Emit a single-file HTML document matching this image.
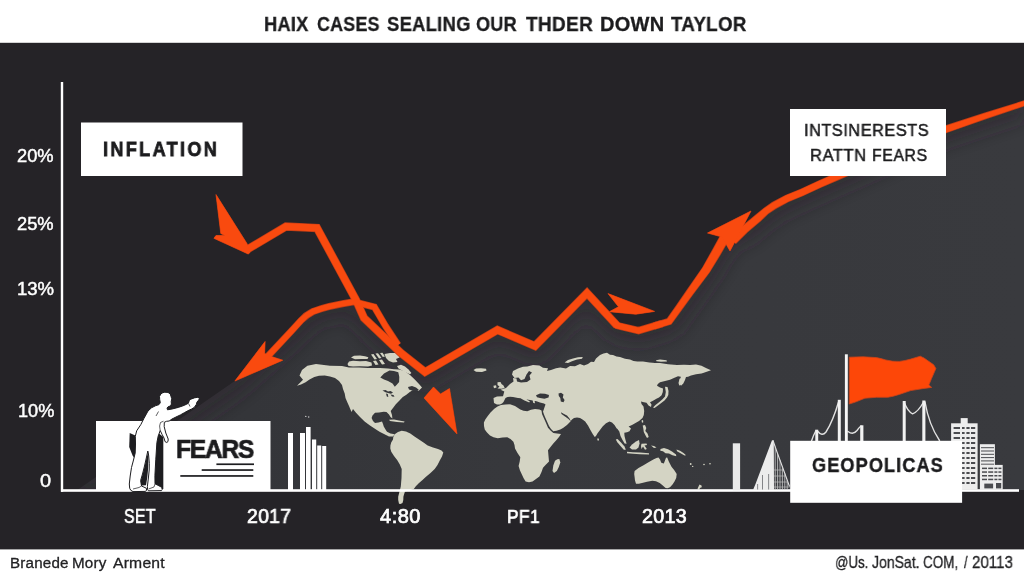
<!DOCTYPE html>
<html><head><meta charset="utf-8">
<style>
html,body{margin:0;padding:0;background:#fff;}
body{width:1024px;height:576px;position:relative;overflow:hidden;font-family:"Liberation Sans",sans-serif;}
#bg{position:absolute;left:0;top:0;width:1024px;height:576px;}
.t{position:absolute;white-space:nowrap;line-height:1;transform-origin:0 0;will-change:transform;}
</style></head><body>
<svg id="bg" width="1024" height="576" viewBox="0 0 1024 576">
<defs>
<linearGradient id="lg" x1="0" y1="0" x2="1" y2="0">
<stop offset="0" stop-color="#323337"/><stop offset="0.45" stop-color="#37383c"/><stop offset="1" stop-color="#393a3e"/>
</linearGradient>
<clipPath id="lclip"><polygon points="77.5,490 235,381 290.8,331.7 304.4,317.1 313,311.5 327.3,306.7 354,301.8 370,322 425,372 497,330 535,346 587,293 617,325.5 638.6,330.6 669.2,321.4 690,292.2 706,270 725,237 745,229 757.8,218.2 774,205.5 801.7,192.5 836.5,176.8 946,129.2 1024,103.5 1024,490"/></clipPath>
<filter id="blur" x="-10%" y="-10%" width="120%" height="120%"><feGaussianBlur stdDeviation="9"/></filter>
</defs>
<rect x="0" y="0" width="1024" height="576" fill="#fff"/>
<rect x="0" y="42.8" width="1024" height="506.6" fill="#252327"/>
<!-- light area -->
<polygon fill="url(#lg)" points="77.5,490 235,381 290.8,331.7 304.4,317.1 313,311.5 327.3,306.7 354,301.8 370,322 425,372 497,330 535,346 587,293 617,325.5 638.6,330.6 669.2,321.4 690,292.2 706,270 725,237 745,229 757.8,218.2 774,205.5 801.7,192.5 836.5,176.8 946,129.2 1024,103.5 1024,490"/>
<g clip-path="url(#lclip)"><polyline points="77.5,490 235,381 290.8,331.7 304.4,317.1 313,311.5 327.3,306.7 354,301.8 370,322 425,372 497,330 535,346 587,293 617,325.5 638.6,330.6 669.2,321.4 690,292.2 706,270 725,237 745,229 757.8,218.2 774,205.5 801.7,192.5 836.5,176.8 946,129.2 1024,103.5" fill="none" stroke="#27262b" stroke-width="26" stroke-opacity="0.5" filter="url(#blur)"/></g>
<!-- MAP -->
<g id="map" fill="#d4d4c4" stroke="none">
<!-- North America -->
<path d="M297,385.8 L303,379.7 L299.5,375.4 L302,370 L307.4,365.8 L316,364 L330,365.8 L342,366 L349,367.6 L359,367.6 L368,368 L380,368 L388,368.5 L394,369.3 L399,369.5 L404.6,371 L410,375 L415,379.7 L419,384 L422,387.5 L418.5,391 L413,390 L409.8,391.9 L406,395 L402.8,397 L399,401 L396,404 L393,408 L390.7,411 L392,415 L392.4,418.5 L390.5,417 L389,414.4 L386.5,412 L383.75,411.8 L379,412.5 L375,412.7 L372.5,415.5 L371.6,418 L373,421 L375,423 L378.5,422.5 L382,421.4 L383,424 L383.75,426.6 L385.5,429.5 L387,431.8 L390.5,433.5 L394.7,434.3 L393,436.5 L389,436.5 L384,434 L380,432 L376.8,430 L370,425.5 L364.6,421.4 L360,417 L356,412.7 L353,409 L351.5,412 L349,406 L347.3,402.3 L345.5,398 L344.7,393.6 L343,389 L342,385 L339,381 L335,378 L330,376.5 L324.7,375.4 L319,375.8 L314.3,377 L309.5,379.5 L305.6,382.3 L301,384.5 Z"/>
<!-- Arctic archipelago -->
<path d="M347.5,364 L349,361.5 L353,360.8 L360,361.3 L366,361 L371.5,362.5 L372,365.5 L368,366.6 L360,366.3 L353,366.6 L348.5,366 Z"/>
<path d="M351,357.5 L354,355.8 L360,355.5 L365,356.2 L368.4,357.2 L367.5,359 L361,359 L355,359.2 Z"/>
<path d="M371,354.5 L373.5,354 L377,359 L374.5,359.5 Z M375.5,353.5 L378,353.2 L381.5,358 L379,358.5 Z M380,353 L382.5,352.8 L385,356.5 L382.8,357 Z M373,361 L376,360.5 L378.5,364.5 L375.5,365 Z M379,360 L382,359.5 L385,364 L382,364.5 Z"/>
<path d="M384.5,354 L390,353 L396,353 L400,354.5 L399.5,357.5 L396,359 L397.5,362 L393,362.6 L389,361 L386,358 Z"/>
<path d="M397,366 L401,364.8 L405,366.5 L408.5,369.5 L411.4,373 L410,374.3 L406,372.5 L402,370.5 L398.5,368.5 Z"/>
<!-- Caribbean -->
<path d="M389,419.8 L394,419.6 L399,420.6 L404.6,421.6 L404,422.6 L397,422 L390,421 Z"/>
<!-- South America -->
<path d="M394.7,434.3 L398,432 L401.7,430.8 L406,431.5 L410.3,433.4 L414.5,436.5 L419,439.5 L423.5,442.5 L427.7,445.6 L433,447.5 L438,449 L441.5,450.5 L443.3,452.5 L442,456.5 L439.9,460.3 L437.5,465 L434.7,469 L430.5,473 L426,476.8 L422.5,480 L419,482.9 L416,486 L413.8,489 L409.5,490.5 L405,491.6 L404,494.5 L403.4,496.8 L403.3,500 L402.5,502.9 L400.5,504 L399,503.75 L398.2,500 L398.2,496.8 L399.5,491.5 L400.8,486.4 L401.5,478 L401.7,469 L399.8,464.5 L397.3,460.3 L394,456 L391.25,451.7 L390.3,448.5 L390.4,445.6 L391.2,442.5 L393,439.5 L393.3,437 Z"/>
<!-- Iceland -->
<path d="M473.5,370 L476,368.6 L481,368.3 L486,368.8 L486.5,370.5 L482,372 L476,371.8 Z"/>
<!-- UK -->
<path d="M497.5,382.3 L500.5,382 L501.5,384 L503.5,385.5 L504.7,388 L501.5,388.8 L497.5,388.4 L499.5,386.5 L497.5,385 Z"/>
<path d="M493.4,385.8 L496,385.3 L496.6,387.6 L494,388.3 Z"/>
<!-- Eurasia -->
<path d="M494,403 L493.5,398 L497,396.5 L503,396.3 L504.3,391.5 L500.5,389.8 L506,388 L510,384 L513.5,381.5 L513,378 L516.5,378.5 L517,381.5 L521,382.5 L527,382 L530.5,379.5 L529.5,375.5 L532,372.5 L529,371 L526.5,374.5 L524.5,379 L521,380.2 L518.5,377.5 L514.5,378 L512,374.5 L513,371 L518,368.5 L523,366.8 L527.3,366.5 L533,365 L539.4,365.6 L543,367.8 L548,368.3 L547,371 L551,370 L556,368.3 L560.3,367.4 L566,368.5 L570,366 L575,366.2 L580,364 L584,365.5 L588,364 L591,361.8 L594,362 L596,358.5 L600,355 L603.5,353.5 L607,352.8 L610,354.8 L613,355 L616.5,356.5 L620,357 L625,358.7 L630,359.5 L633.5,361 L637.3,361.5 L643,361.6 L649.4,362.4 L655,363 L660,363 L668,364.3 L677,365 L684,364.8 L690,365 L696,364.5 L701.5,365.8 L706.5,368.3 L711,370.2 L706,372 L701.5,373.6 L696,374.2 L691,375.4 L688,376.8 L686,377 L685,380 L683.3,383.5 L681,385.8 L679.3,383.5 L680.3,379.5 L680.8,376.8 L678,376.2 L675,377.5 L670,379.7 L665,381 L660,382.3 L657.8,384 L657,385.8 L660,387.5 L663,388.4 L662.8,392 L661.6,395.3 L659,397.5 L656.4,398.8 L653,400.8 L650,402.3 L651.5,404.5 L651,407 L648.5,405.5 L646.5,402.8 L644,402.3 L641,401.4 L641.5,404 L643.5,406.5 L644.2,411 L643.8,415 L642.5,418 L639,421 L635.5,423 L632,425 L628.6,426.6 L631,428.5 L629.5,431.3 L627,432.3 L624.3,432.7 L624.5,436 L625.5,440 L626.6,443.7 L624.6,443.5 L622.5,440 L620.5,436 L619.3,431.5 L617.5,429 L616.5,428.3 L614.5,425 L612,422.5 L609.5,421.4 L606,423.2 L602.6,426.6 L600,430 L597.4,433.5 L596,436 L594.75,437 L593,434.5 L590.4,430 L588,425.5 L585.2,421.4 L582.5,419.5 L580,418 L577,417.6 L574,418 L572,419.5 L570.7,421 L569.5,418.5 L567,415.6 L564,414 L561,412.3 L561.5,414 L565,416.5 L568.5,419 L570.7,421.2 L567,425 L563,428 L560.3,429.5 L556.5,430.8 L553.3,431.25 L551,429 L549,426 L547,421.5 L545,417 L543.8,414 L543,411.5 L543.8,409.5 L544.6,407 L545.5,404.5 L544,403.5 L540,402.5 L536.5,401.2 L533,400.5 L530,400 L527,399.5 L524,398.8 L521,398.3 L518,398 L515.5,397.6 L513,397 L510,396.8 L507.5,397 L505.5,398 L504.5,400 L503.5,402 L502,403.5 L500,404.5 L497,404.6 Z M516,394 L517.5,393.8 L521,396.3 L525,398.8 L529.8,401.3 L529.3,402.6 L524.5,400.5 L520,398 Z M532.5,400 L534.5,400.3 L535,403.3 L533.3,403 Z"/>
<!-- Novaya Zemlya -->
<path d="M564.6,362.4 L568,360 L573,358.5 L578,357.3 L582.8,357 L582,358.8 L577,359.5 L572,361.3 L568,363 Z"/>
<path d="M656,360.2 L660,359.6 L666.5,360.2 L667,361.5 L661,361.7 L656.5,361.3 Z"/>
<!-- Japan / Sakhalin -->
<path d="M679.5,378.8 L681.5,378 L682.5,380 L681,384 L679.3,385.8 L678.5,383 Z"/>
<path d="M665,386.7 L667.5,387 L668.5,391 L668.3,395 L667,397.5 L664.5,400.5 L661.6,402.8 L658,405.5 L654.5,408 L653,407.6 L655.5,405 L659,402.3 L662.5,399.3 L665,396.5 L665.8,392 Z"/>
<!-- Africa -->
<path d="M494.3,408.7 L497.5,406.5 L501,405 L505.5,404.5 L510,404.3 L515,406 L520.3,409.5 L523.5,410.8 L527.3,411.3 L531,409.8 L535,409 L539.4,409.5 L541.5,410.5 L542,413.9 L544,418.5 L546,423 L548,427.8 L550.5,430.5 L553.3,433 L557,433.5 L561,433.9 L559,437 L556.5,440 L553.3,443.4 L550.5,447 L548,450.3 L548.5,456 L549,461.6 L546,464.5 L543,467.7 L541.5,472 L539.4,476.4 L536,479 L532.5,481.6 L529,482.2 L525.6,481.6 L523.5,478 L522,474.7 L520,470.5 L518.6,466 L519.7,461.5 L520.3,457.3 L517.5,453 L515,448.6 L514.5,445 L513.4,441.7 L510.5,439 L507.3,437.3 L502.5,437.5 L497.8,438.2 L493.5,437.3 L490,435.6 L487,432.5 L484.75,429.5 L484,426 L483.9,422.6 L485.3,419.5 L487.4,416.5 L490.5,412.5 Z"/>
<!-- Madagascar -->
<path d="M552.5,471 L553.3,465.5 L555,460.8 L557.3,459.3 L559.4,459 L560.3,462.5 L558.8,467 L556.8,471 L554,473 Z"/>
<!-- Sri Lanka -->
<path d="M597.5,438.3 L599,438.8 L598.7,440.8 L597.3,440.3 Z"/>
<!-- Sumatra -->
<path d="M615.8,439.4 L617.5,439 L621,442.5 L624.5,446.5 L625.8,449.8 L623.8,449.7 L620.5,446 L617.5,442.5 Z"/>
<!-- Java -->
<path d="M627,451.8 L633,452.2 L640,452.6 L649,453.2 L649,454.4 L640,454.2 L633,453.8 L627,453.2 Z"/>
<!-- Borneo -->
<path d="M629.5,447.5 L632,444.5 L636,441.5 L639,440 L639.6,443.5 L638.5,447.5 L636,449.5 L632,449.5 Z"/>
<!-- Sulawesi -->
<path d="M641.5,443.8 L646.5,443.6 L647,445 L644.5,445.5 L646.8,449 L645,449.7 L643,446.5 L641.5,449 L641,446 Z"/>
<!-- Philippines -->
<path d="M642.7,425.5 L645,425 L646.3,428 L645.3,431 L647.5,433.5 L648.7,437 L647,438 L645.3,435 L643.8,432 L643.3,428.5 Z"/>
<!-- Hainan/Taiwan -->
<path d="M641.5,420.5 L643,420 L643.3,422.3 L642,422.8 Z"/>
<!-- New Guinea -->
<path d="M660.5,449 L664,448 L668,449.3 L672,451.5 L676,454.5 L676.3,456.2 L672.5,455.3 L669,453.5 L665.5,453.3 L663,451.3 L660.3,450.8 Z"/>
<path d="M676.5,449.5 L680,450.8 L683.5,453 L686,455.3 L684.5,455.5 L681,453.5 L677,451.3 Z"/>
<path d="M651,445.5 L654,446 L656.5,447.5 L654,448 Z"/>
<!-- Australia -->
<path d="M634.6,471.1 L638.5,468 L643.5,465.2 L648.5,462.3 L653.8,459.3 L656.5,458 L658.5,457.6 L660,459.5 L661.3,462.8 L663.8,463.5 L665,460.5 L666,457.8 L667.2,457.5 L668.8,461.5 L671.5,466.7 L674.3,470.3 L676.7,474 L676.2,478 L674.5,481.4 L672.5,484.5 L670,487.3 L667.5,488.3 L665.6,488 L662.5,485.3 L659.7,483 L656,481.3 L652.3,480.7 L647,481.7 L642,483 L638.8,483.8 L636,483.7 L635,480.5 L634.6,477 L634.2,474 Z"/>
<path d="M669,489.5 L671,489.3 L671,491 L669.3,491 Z"/>
<!-- NZ -->
<path d="M699.5,484.4 L701.5,485.5 L701.8,487.3 L700.3,487.8 L699,489.5 L697.4,489.3 L698.3,487 Z"/>
<!-- pacific dots -->
<circle cx="690.7" cy="464" r="0.9"/><circle cx="692.7" cy="466.4" r="0.7"/><circle cx="704" cy="464.5" r="0.8"/><circle cx="710" cy="463.7" r="0.8"/>
<!-- seas -->
<g fill="#36373b">
<path d="M380.3,377.5 L384,373.5 L389.5,370.5 L394,371 L398.3,372.2 L399.3,377 L399.1,381.9 L397,384.5 L394.8,386.8 L392.5,383.5 L388,381 L384,379.5 Z"/>
<path d="M382.5,390.5 L385.5,390 L388,391.5 L390.5,391 L393,392.5 L391,393.8 L388,393 L385.5,392.3 Z"/>
<path d="M386,393.5 L387.8,394 L388.3,397 L386.8,396.5 Z M390.5,394.5 L393.5,395 L394.5,396.8 L392,396.5 Z"/>
<path d="M536,395.3 L540,393.6 L545,393.8 L549,395 L548.5,397.5 L544.5,398.8 L540,398 L537,397.3 Z"/>
<path d="M558.5,393.5 L561,392.7 L563.5,394.5 L562.8,397.5 L564.6,400 L563.5,402.3 L560.8,401.5 L560.3,398 L558.8,396 Z"/>
<path d="M408,387 L412,386 L416,387.5 L419,390 L416.5,391.6 L412,390.5 L409,389.5 Z"/>
</g>
</g>

<!-- orange lines -->
<g id="linesU" fill="none" stroke="#b93c18" stroke-linejoin="miter" stroke-linecap="butt">
<polyline stroke-width="8.3" points="245.5,250.5 286,226.5 317,228 356,300 364,318 401,353 425,372 497.5,330 535,346 587,293 617,325.5"/>
<polyline stroke-width="7.4" points="587,293 617,325.5 638.6,330.6 662,323.6"/>
<path stroke-width="7" d="M262,362.5 L290.8,331.7 L301,320.5 Q306,315 313,311.5 Q327,306 354,301.8 L374.4,307 L385.5,326 L398,345"/>
</g>
<g id="arrowsU" fill="#b93c18" stroke="#b93c18" stroke-width="1" stroke-linejoin="miter">
<polygon stroke="none" points="652.9,322.5 666.9,318.3 676.4,304.8 686.7,289.8 702.2,267.5 711.7,250.5 720.5,234.5 729.5,239.5 720.3,255.5 709.8,272.5 693.3,294.6 682.6,309.2 671.5,324.5 655.1,329.5"/>
<polygon stroke="none" points="730.0,238.0 742.1,225.8 755.0,214.9 763.6,207.9 772.0,202.1 785.3,195.0 800.1,188.9 818.4,180.4 834.9,173.2 888.4,149.9 944.6,125.6 983.9,112.7 1026.1,99.7 1027.9,105.3 986.1,119.3 947.4,132.8 891.6,157.1 838.1,180.4 821.6,187.6 803.3,196.1 788.7,202.0 776.0,208.9 768.4,214.1 760.6,221.5 747.9,232.2 736.0,244.0"/>
<polygon points="216,194.6 247.2,243.9 250,252.5 248.2,254 213.9,238.3 216,235.5 225,235.5 220.8,233.5"/>
<polygon points="234.9,381 265.1,341.5 264.6,353.4 272.9,357 282.8,360.2"/>
<polygon points="457,434 424,398 433.5,387 440.5,394 449.5,388.5"/>
<polygon points="654.6,311.4 608,293.6 618.5,306.8 609.4,311.7 635.8,314.2"/>
<polygon points="751,211 707.5,233 722,237 730,251"/>
</g>
<g id="lines" fill="none" stroke="#f94a0f" stroke-width="7" stroke-linejoin="miter" stroke-linecap="butt">
<polyline points="245.5,250.5 286,226.5 317,228 356,300 364,318 401,353 425,372 497.5,330 535,346 587,293 617,325.5"/>
<polyline stroke-width="6.1" points="587,293 617,325.5 638.6,330.6 662,323.6"/>
<path stroke-width="5.7" d="M262,362.5 L290.8,331.7 L301,320.5 Q306,315 313,311.5 Q327,306 354,301.8 L374.4,307 L385.5,326 L398,345"/>
</g>
<g id="arrows" fill="#f94a0f">
<polygon points="653.1,323.1 667.3,318.9 677.0,305.2 687.3,290.2 702.7,267.8 712.3,250.9 721.1,234.8 728.9,239.2 719.7,255.1 709.3,272.2 692.7,294.2 682.0,308.8 671.1,323.9 654.9,328.9"/>
<polygon points="730.5,238.5 742.6,226.3 755.5,215.5 764.0,208.5 772.4,202.8 785.6,195.6 800.4,189.6 818.7,181.1 835.2,173.9 888.7,150.6 944.8,126.2 984.1,113.4 1026.3,100.4 1027.7,104.6 985.9,118.6 947.2,132.2 891.3,156.4 837.8,179.7 821.3,186.9 803.0,195.4 788.4,201.4 775.6,208.2 768.0,213.5 760.1,220.9 747.4,231.7 735.5,243.5"/>
<polygon points="216,194.6 247.2,243.9 250,252.5 248.2,254 213.9,238.3 216,235.5 225,235.5 220.8,233.5"/>
<polygon points="234.9,381 265.1,341.5 264.6,353.4 272.9,357 282.8,360.2"/>
<polygon points="457,434 424,398 433.5,387 440.5,394 449.5,388.5"/>
<polygon points="654.6,311.4 608,293.6 618.5,306.8 609.4,311.7 635.8,314.2"/>
<polygon points="751,211 707.5,233 722,237 730,251"/>
</g>
<!-- axes -->
<rect x="60.8" y="82" width="2.4" height="409.8" fill="#fff"/>
<rect x="61" y="489.2" width="958" height="2.6" fill="#fff"/>
<!-- boxes -->
<rect x="81" y="122.5" width="161.5" height="53.5" fill="#fff"/>
<rect x="790" y="109" width="156" height="67" fill="#fff"/>
<rect x="96" y="421" width="174.5" height="69" fill="#fff"/>
<g id="bars" fill="#fff">
<rect x="288" y="433" width="5" height="57"/>
<rect x="300" y="433" width="5" height="57"/>
<rect x="306" y="427" width="4.6" height="63"/>
<rect x="312" y="439.5" width="4.2" height="50.5"/>
<rect x="317.2" y="445.5" width="4" height="44.5"/>
<rect x="322.2" y="446" width="4" height="44"/>
<circle cx="305.8" cy="416.4" r="0.7" fill="#cfcfcf"/><circle cx="308.7" cy="417" r="0.7" fill="#cfcfcf"/>
</g>

<g id="man">
<g fill="#1d1d20"><rect x="216.4" y="463.4" width="37.6" height="1.7"/><rect x="201.7" y="469.2" width="51.6" height="1.7"/><rect x="180.3" y="475.1" width="73" height="1.7"/></g>
<!-- dark door/shadow -->
<path d="M157.5,436 L159,433.5 L163.3,437 L163.3,489 L155,489 L154,461 L155.2,441 Z" fill="#1d1d20"/>
<!-- bag -->
<path d="M129.7,432.9 L136.4,435.9 L135.4,459.5 L132.6,455.4 L129.2,446.9 Z" fill="#1d1d20"/>
<!-- body -->
<path d="M164.8,392.2 L168,392.4 L170.3,394 L171,396.5 L171.8,398.8 L171.2,401.5 L171.4,404 L170.5,406 L168.3,406.6 L167,408 L167.5,409.8
 L172,409 L178.3,407.4 L183,405.8 L186.7,404.2 L188.4,403.2 L189.3,400.6 L190.8,399.2 L194.3,397.9 L198,397.2 L199.3,398.2 L198.8,399.9 L197,402 L196.3,404.5 L194.3,407.4 L191.3,409.2 L189.3,410 L184.5,412.6 L180.4,414.9 L176,417 L172,419 L169.2,421
 L166.5,421.3 L164.3,422.3 L164.2,426.7 L165.8,433 L167,436 L168.2,439 L168,441.5 L166.8,442.5 L165,441.6 L164,438 L162,434.3 L160.2,430.5 L159.3,433 L158.2,436 L156.9,442.5 L155.8,459.2 L154.9,475.8 L155,483.8 L158,485.3 L161.7,487.3 L162.2,489.5 L161.5,490.6 L148.5,490.8 L147.5,489.4 L147.4,486.3 L148.4,478 L149.2,470 L149.3,463.3 L148.6,455 L147.8,451 L146.3,458 L144.5,466 L142.5,474 L140.6,480.5 L141.5,486 L146.3,488.2 L146.6,490 L145.6,491.4 L133,491.6 L130.8,490.3 L129.7,488.3 L129.3,484 L130.2,476 L131.5,467.5 L133.5,460 L135.2,453 L135.5,444 L135.3,436.3 L136.7,430.8 L140.8,424.6 L144,418.3 L148,411 L151.5,407.8 L155.4,405.8 L159,404.6 L160.3,402.7 L159.7,399.5 L159.5,396.5 L160.8,394 L162.8,392.7 Z" fill="#fff" stroke="#1d1d20" stroke-width="1" stroke-linejoin="round"/>
<!-- inner lines -->
<path d="M148.3,452 L146.5,458 L144.7,466 L142.7,474 L140.8,480.5 L141.2,485.5 L146,485.2 L147.2,478 L148,470 L148.3,463 Z" fill="#1d1d20"/>
<path d="M160.2,430.5 L159.6,426 L160.5,422.5 L163.5,421.2 M188.6,403.6 L190,406.5 M158.5,411.5 L156,416 M133,489 L139,487.5 L141.5,486 M148.5,489 L154,487 L155,483.8" fill="none" stroke="#1d1d20" stroke-width="0.7"/>
</g>

<g id="city">
<rect x="732.8" y="443.3" width="7.3" height="47" fill="#e9e9e9"/>
<path d="M772,440.2 L773.8,440.6 L774,490 L753,490 L755.5,484 Z" fill="#ececec"/>
<rect x="757.3" y="484" width="0.8" height="5.5" fill="#6a6b6f"/>
<rect x="762" y="475" width="0.8" height="14.5" fill="#6a6b6f"/>
<rect x="768.3" y="474" width="0.8" height="15.5" fill="#6a6b6f"/>
<path d="M773,440.5 L777,452 L781,463 L785,474 L789.5,486.5" fill="none" stroke="#e4e4e4" stroke-width="1.1"/>
<line x1="775.2" y1="446.6" x2="775.2" y2="490" stroke="#cfcfcf" stroke-width="0.8"/>
<line x1="777.6" y1="453.3" x2="777.6" y2="490" stroke="#cfcfcf" stroke-width="0.8"/>
<line x1="780" y1="460.0" x2="780" y2="490" stroke="#cfcfcf" stroke-width="0.8"/>
<line x1="782.4" y1="466.7" x2="782.4" y2="490" stroke="#cfcfcf" stroke-width="0.8"/>
<line x1="784.8" y1="473.4" x2="784.8" y2="490" stroke="#cfcfcf" stroke-width="0.8"/>
<line x1="787.2" y1="480.1" x2="787.2" y2="490" stroke="#cfcfcf" stroke-width="0.8"/>
<line x1="774" y1="470" x2="783.6" y2="470" stroke="#bdbdbd" stroke-width="0.7"/>
<line x1="774" y1="476" x2="785.7" y2="476" stroke="#bdbdbd" stroke-width="0.7"/>
<line x1="774" y1="482" x2="787.9" y2="482" stroke="#bdbdbd" stroke-width="0.7"/>
<line x1="774" y1="487" x2="789.7" y2="487" stroke="#bdbdbd" stroke-width="0.7"/>
<path d="M811.5,441 Q813.5,435 816,430.5" stroke="#e2e2e2" stroke-width="1.4" fill="none" stroke-linecap="round"/>
<path d="M817.5,431 Q822,437 826,432 Q833,421 838.5,402" stroke="#e2e2e2" stroke-width="1.4" fill="none" stroke-linecap="round"/>
<path d="M848,431.5 Q853,435.5 857,430.5 Q859,427.5 861,426" stroke="#e2e2e2" stroke-width="1.4" fill="none" stroke-linecap="round"/>
<path d="M904,402 Q908,412 912.6,413.8 Q918,412 923.6,402" stroke="#e2e2e2" stroke-width="1.4" fill="none" stroke-linecap="round"/>
<path d="M925,402 Q929,425 939.5,440.5" stroke="#e2e2e2" stroke-width="1.4" fill="none" stroke-linecap="round"/>
<rect x="815.3" y="429.7" width="2.9" height="12" fill="#f2f2f2"/>
<rect x="837.8" y="399.8" width="3" height="42" fill="#f2f2f2"/>
<rect x="860.2" y="425.3" width="3.2" height="16.5" fill="#f2f2f2"/>
<rect x="902.7" y="401" width="3" height="41" fill="#f2f2f2"/>
<rect x="922.3" y="400.5" width="3.1" height="41.5" fill="#f2f2f2"/>
<rect x="844.9" y="354.3" width="2.9" height="87.5" fill="#f7f7f7"/>
<path d="M849.3,357.2 L863,356.8 L876.4,357.6 Q881,358.5 885.9,360 Q893,361.8 899.3,361.4 Q905,360.8 910.7,359.1 L920.3,356.2 L924.1,358.1 L933.7,364.8 L935.9,368.6 L931.7,378.2 L928.9,384.9 L931.7,387.4 L922.2,388.7 L910.7,390.6 L899.3,394.4 Q893,396.5 887.8,397.3 L876.4,397.3 L864.9,398.2 L855.4,402.1 L849.3,404 Z" fill="#fd4708" stroke="#c9431a" stroke-width="0.8" stroke-linejoin="round"/>
<rect x="960.7" y="418.1" width="7" height="6" fill="#ededed"/>
<rect x="951.1" y="423.3" width="26.5" height="66.5" fill="#ededed"/>
<rect x="953.6" y="427.0" width="6.4" height="2" fill="#4a4b4f"/>
<rect x="962" y="427.0" width="2.6" height="2" fill="#4a4b4f"/>
<rect x="966.4" y="427.0" width="3.2" height="2" fill="#4a4b4f"/>
<rect x="971" y="427.0" width="4.2" height="2" fill="#4a4b4f"/>
<rect x="953.6" y="432.0" width="6.4" height="2" fill="#4a4b4f"/>
<rect x="962" y="432.0" width="2.6" height="2" fill="#4a4b4f"/>
<rect x="966.4" y="432.0" width="3.2" height="2" fill="#4a4b4f"/>
<rect x="971" y="432.0" width="4.2" height="2" fill="#4a4b4f"/>
<rect x="953.6" y="437.0" width="6.4" height="2" fill="#4a4b4f"/>
<rect x="962" y="437.0" width="2.6" height="2" fill="#4a4b4f"/>
<rect x="966.4" y="437.0" width="3.2" height="2" fill="#4a4b4f"/>
<rect x="971" y="437.0" width="4.2" height="2" fill="#4a4b4f"/>
<rect x="953.6" y="442.0" width="6.4" height="2" fill="#4a4b4f"/>
<rect x="962" y="442.0" width="2.6" height="2" fill="#4a4b4f"/>
<rect x="966.4" y="442.0" width="3.2" height="2" fill="#4a4b4f"/>
<rect x="971" y="442.0" width="4.2" height="2" fill="#4a4b4f"/>
<rect x="953.6" y="447.0" width="6.4" height="2" fill="#4a4b4f"/>
<rect x="962" y="447.0" width="2.6" height="2" fill="#4a4b4f"/>
<rect x="966.4" y="447.0" width="3.2" height="2" fill="#4a4b4f"/>
<rect x="971" y="447.0" width="4.2" height="2" fill="#4a4b4f"/>
<rect x="953.6" y="452.0" width="6.4" height="2" fill="#4a4b4f"/>
<rect x="962" y="452.0" width="2.6" height="2" fill="#4a4b4f"/>
<rect x="966.4" y="452.0" width="3.2" height="2" fill="#4a4b4f"/>
<rect x="971" y="452.0" width="4.2" height="2" fill="#4a4b4f"/>
<rect x="953.6" y="457.0" width="6.4" height="2" fill="#4a4b4f"/>
<rect x="962" y="457.0" width="2.6" height="2" fill="#4a4b4f"/>
<rect x="966.4" y="457.0" width="3.2" height="2" fill="#4a4b4f"/>
<rect x="971" y="457.0" width="4.2" height="2" fill="#4a4b4f"/>
<rect x="953.6" y="462.0" width="6.4" height="2" fill="#4a4b4f"/>
<rect x="962" y="462.0" width="2.6" height="2" fill="#4a4b4f"/>
<rect x="966.4" y="462.0" width="3.2" height="2" fill="#4a4b4f"/>
<rect x="971" y="462.0" width="4.2" height="2" fill="#4a4b4f"/>
<rect x="953.6" y="467.0" width="6.4" height="2" fill="#4a4b4f"/>
<rect x="962" y="467.0" width="2.6" height="2" fill="#4a4b4f"/>
<rect x="966.4" y="467.0" width="3.2" height="2" fill="#4a4b4f"/>
<rect x="971" y="467.0" width="4.2" height="2" fill="#4a4b4f"/>
<rect x="953.6" y="472.0" width="6.4" height="2" fill="#4a4b4f"/>
<rect x="962" y="472.0" width="2.6" height="2" fill="#4a4b4f"/>
<rect x="966.4" y="472.0" width="3.2" height="2" fill="#4a4b4f"/>
<rect x="971" y="472.0" width="4.2" height="2" fill="#4a4b4f"/>
<rect x="953.6" y="477.0" width="6.4" height="2" fill="#4a4b4f"/>
<rect x="962" y="477.0" width="2.6" height="2" fill="#4a4b4f"/>
<rect x="966.4" y="477.0" width="3.2" height="2" fill="#4a4b4f"/>
<rect x="971" y="477.0" width="4.2" height="2" fill="#4a4b4f"/>
<rect x="953.6" y="482.0" width="6.4" height="2" fill="#4a4b4f"/>
<rect x="962" y="482.0" width="2.6" height="2" fill="#4a4b4f"/>
<rect x="966.4" y="482.0" width="3.2" height="2" fill="#4a4b4f"/>
<rect x="971" y="482.0" width="4.2" height="2" fill="#4a4b4f"/>
<rect x="979.9" y="444.2" width="15" height="45.6" fill="#ededed"/>
<rect x="981" y="447.2" width="13" height="1" fill="#4a4b4f"/>
<rect x="981" y="450.5" width="13" height="1" fill="#4a4b4f"/>
<rect x="981" y="453.8" width="13" height="1" fill="#4a4b4f"/>
<rect x="981" y="457.1" width="13" height="1" fill="#4a4b4f"/>
<rect x="981" y="460.4" width="13" height="1" fill="#4a4b4f"/>
<rect x="981" y="463.7" width="13" height="1" fill="#4a4b4f"/>
<rect x="980.6" y="464.9" width="22.1" height="24.9" fill="#ededed"/>
<rect x="982" y="467.6" width="5" height="1.5" fill="#4a4b4f"/>
<rect x="988.2" y="467.6" width="5" height="1.5" fill="#4a4b4f"/>
<rect x="994.4" y="467.6" width="3" height="1.5" fill="#4a4b4f"/>
<rect x="998.4" y="467.6" width="3" height="1.5" fill="#4a4b4f"/>
<rect x="982" y="471.3" width="5" height="1.5" fill="#4a4b4f"/>
<rect x="988.2" y="471.3" width="5" height="1.5" fill="#4a4b4f"/>
<rect x="994.4" y="471.3" width="3" height="1.5" fill="#4a4b4f"/>
<rect x="998.4" y="471.3" width="3" height="1.5" fill="#4a4b4f"/>
<rect x="982" y="475" width="5" height="1.5" fill="#4a4b4f"/>
<rect x="988.2" y="475" width="5" height="1.5" fill="#4a4b4f"/>
<rect x="994.4" y="475" width="3" height="1.5" fill="#4a4b4f"/>
<rect x="998.4" y="475" width="3" height="1.5" fill="#4a4b4f"/>
<rect x="982" y="478.7" width="5" height="1.5" fill="#4a4b4f"/>
<rect x="988.2" y="478.7" width="5" height="1.5" fill="#4a4b4f"/>
<rect x="994.4" y="478.7" width="3" height="1.5" fill="#4a4b4f"/>
<rect x="998.4" y="478.7" width="3" height="1.5" fill="#4a4b4f"/>
<rect x="984.3" y="483.6" width="8.8" height="4.8" fill="#4a4b4f"/>
<rect x="996" y="483" width="5.2" height="5.4" fill="#4a4b4f"/>
<rect x="790.2" y="440.8" width="171.9" height="62" fill="#fff"/>
</g>
</svg>
<div class="t" style="left:264.17px;top:13.50px;font-size:20.00px;font-weight:bold;letter-spacing:0.31px;color:#1c1c1e;-webkit-text-stroke:0.3px #1c1c1e;transform:scaleX(0.9108);">HAIX</div>
<div class="t" style="left:316.65px;top:13.50px;font-size:20.00px;font-weight:bold;letter-spacing:0.31px;color:#1c1c1e;-webkit-text-stroke:0.3px #1c1c1e;transform:scaleX(0.8901);">CASES</div>
<div class="t" style="left:386.60px;top:13.50px;font-size:20.00px;font-weight:bold;letter-spacing:0.31px;color:#1c1c1e;-webkit-text-stroke:0.3px #1c1c1e;transform:scaleX(0.9190);">SEALING</div>
<div class="t" style="left:476.39px;top:13.50px;font-size:20.00px;font-weight:bold;letter-spacing:0.31px;color:#1c1c1e;-webkit-text-stroke:0.3px #1c1c1e;transform:scaleX(0.9053);">OUR</div>
<div class="t" style="left:525.94px;top:13.50px;font-size:20.00px;font-weight:bold;letter-spacing:0.31px;color:#1c1c1e;-webkit-text-stroke:0.3px #1c1c1e;transform:scaleX(0.9520);">THDER</div>
<div class="t" style="left:599.82px;top:13.50px;font-size:20.00px;font-weight:bold;letter-spacing:0.31px;color:#1c1c1e;-webkit-text-stroke:0.3px #1c1c1e;transform:scaleX(0.9941);">DOWN</div>
<div class="t" style="left:670.94px;top:13.50px;font-size:20.00px;font-weight:bold;letter-spacing:0.31px;color:#1c1c1e;-webkit-text-stroke:0.3px #1c1c1e;transform:scaleX(0.9358);">TAYLOR</div>
<div class="t" style="left:103.13px;top:138.68px;font-size:20.69px;font-weight:bold;letter-spacing:2.74px;color:#1c1c1e;-webkit-text-stroke:0.8px #1c1c1e;transform:scaleX(0.8704);">INFLATION</div>
<div class="t" style="left:803.83px;top:121.54px;font-size:17.25px;font-weight:normal;letter-spacing:0.60px;color:#1c1c1e;-webkit-text-stroke:0.5px #1c1c1e;transform:scaleX(0.9426);">INTSINERESTS</div>
<div class="t" style="left:809.68px;top:146.98px;font-size:17.39px;font-weight:normal;letter-spacing:0.59px;color:#1c1c1e;-webkit-text-stroke:0.5px #1c1c1e;transform:scaleX(0.9499);">RATTN</div>
<div class="t" style="left:871.53px;top:146.98px;font-size:17.39px;font-weight:normal;letter-spacing:0.59px;color:#1c1c1e;-webkit-text-stroke:0.5px #1c1c1e;transform:scaleX(0.9131);">FEARS</div>
<div class="t" style="left:176.47px;top:436.20px;font-size:26.47px;font-weight:bold;letter-spacing:-1.39px;color:#1c1c1e;-webkit-text-stroke:0.7px #1c1c1e;transform:scaleX(0.9314);">FEARS</div>
<div class="t" style="left:811.93px;top:455.07px;font-size:20.52px;font-weight:bold;letter-spacing:1.22px;color:#1c1c1e;-webkit-text-stroke:0.4px #1c1c1e;transform:scaleX(0.8853);">GEOPOLICAS</div>
<div class="t" style="left:17.30px;top:146.88px;font-size:18.09px;font-weight:normal;letter-spacing:0.00px;color:#ffffff;-webkit-text-stroke:0.45px #ffffff;transform:scaleX(1.0113);">20%</div>
<div class="t" style="left:17.30px;top:214.58px;font-size:18.09px;font-weight:normal;letter-spacing:0.00px;color:#ffffff;-webkit-text-stroke:0.45px #ffffff;transform:scaleX(1.0113);">25%</div>
<div class="t" style="left:16.82px;top:281.38px;font-size:17.60px;font-weight:normal;letter-spacing:0.00px;color:#ffffff;-webkit-text-stroke:0.45px #ffffff;transform:scaleX(1.0539);">13%</div>
<div class="t" style="left:17.64px;top:402.76px;font-size:17.67px;font-weight:normal;letter-spacing:0.00px;color:#ffffff;-webkit-text-stroke:0.45px #ffffff;transform:scaleX(1.0283);">10%</div>
<div class="t" style="left:39.96px;top:472.21px;font-size:18.37px;font-weight:normal;letter-spacing:0.00px;color:#ffffff;-webkit-text-stroke:0.45px #ffffff;transform:scaleX(1.0852);">0</div>
<div class="t" style="left:123.57px;top:506.92px;font-size:19.91px;font-weight:normal;letter-spacing:0.49px;color:#ffffff;-webkit-text-stroke:0.7px #ffffff;transform:scaleX(0.7942);">SET</div>
<div class="t" style="left:247.37px;top:506.80px;font-size:19.56px;font-weight:normal;letter-spacing:0.29px;color:#ffffff;-webkit-text-stroke:0.7px #ffffff;transform:scaleX(0.9911);">2017</div>
<div class="t" style="left:379.89px;top:506.80px;font-size:19.56px;font-weight:normal;letter-spacing:0.49px;color:#ffffff;-webkit-text-stroke:0.7px #ffffff;transform:scaleX(1.0250);">4:80</div>
<div class="t" style="left:506.89px;top:506.92px;font-size:19.22px;font-weight:normal;letter-spacing:0.49px;color:#ffffff;-webkit-text-stroke:0.7px #ffffff;transform:scaleX(0.9012);">PF1</div>
<div class="t" style="left:642.36px;top:506.80px;font-size:19.56px;font-weight:normal;letter-spacing:0.29px;color:#ffffff;-webkit-text-stroke:0.7px #ffffff;transform:scaleX(1.0060);">2013</div>
<div class="t" style="left:9.81px;top:554.66px;font-size:15.16px;font-weight:normal;letter-spacing:0.20px;color:#222224;-webkit-text-stroke:0.3px #222224;transform:scaleX(0.9985);">Branede</div>
<div class="t" style="left:71.80px;top:554.66px;font-size:15.16px;font-weight:normal;letter-spacing:0.20px;color:#222224;-webkit-text-stroke:0.3px #222224;transform:scaleX(1.0037);">Mory</div>
<div class="t" style="left:112.59px;top:554.66px;font-size:15.16px;font-weight:normal;letter-spacing:0.20px;color:#222224;-webkit-text-stroke:0.3px #222224;transform:scaleX(1.0358);">Arment</div>
<div class="t" style="left:834.78px;top:553.78px;font-size:16.51px;font-weight:normal;letter-spacing:0.00px;color:#222224;-webkit-text-stroke:0.3px #222224;transform:scaleX(0.8021);">@Us.</div>
<div class="t" style="left:872.49px;top:553.78px;font-size:16.51px;font-weight:normal;letter-spacing:0.00px;color:#222224;-webkit-text-stroke:0.3px #222224;transform:scaleX(0.8514);">JonSat.</div>
<div class="t" style="left:923.23px;top:553.78px;font-size:16.51px;font-weight:normal;letter-spacing:0.00px;color:#222224;-webkit-text-stroke:0.3px #222224;transform:scaleX(0.8163);">COM,</div>
<div class="t" style="left:963.73px;top:553.78px;font-size:16.51px;font-weight:normal;letter-spacing:0.00px;color:#222224;-webkit-text-stroke:0.3px #222224;transform:scaleX(0.7785);">/</div>
<div class="t" style="left:972.38px;top:553.78px;font-size:16.51px;font-weight:normal;letter-spacing:0.00px;color:#222224;-webkit-text-stroke:0.3px #222224;transform:scaleX(0.9165);">20113</div>
</body></html>
